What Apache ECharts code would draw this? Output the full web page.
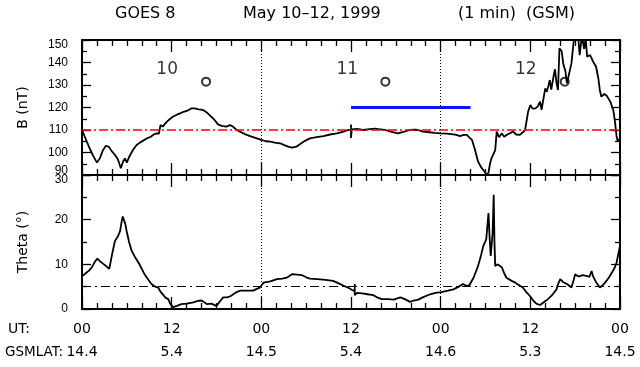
<!DOCTYPE html>
<html>
<head>
<meta charset="utf-8">
<script src="https://cdn.jsdelivr.net/npm/echarts@6/dist/echarts.min.js"></script>
<style>
html, body { margin: 0; padding: 0; background: #fff; }
#main { width: 640px; height: 367px; }
</style>
</head>
<body>
<div id="main"></div>
<script>
// bottom axis label rows
var utLabels = ["00", "12", "00", "12", "00", "12", "00"];
var latLabels = ["14.4", "5.4", "14.5", "5.4", "14.6", "5.3", "14.5"];

// day labels and local noon markers in the B panel
var dayLabels = ["10", "11", "12"];
var dayPos = [[11.4, 137], [35.5, 137], [59.4, 137]];
var noonMarks = [[16.6, 131.5], [40.6, 131.5], [64.6, 131.5]];

// blue bar (hours 36-52 at 120 nT)
var blueBar = [[36, 120], [52, 120]];

// reference levels
var bRef = 110;
var thetaRef = 5;
var dayBounds = [24, 48];

// B (nT) vs hours since 00 UT May 10
var bField = [
  [0,110],[0.5,106],[1,102],[1.5,98.5],[2,95.5],[2.4,97.5],[2.8,101],[3.2,103],[3.6,102.5],[4,100.5],
  [4.4,99],[4.8,97],[5.2,93],[5.5,96],[5.75,97.4],[6,95.5],[6.3,98],[6.8,101],[7.3,103.3],[7.8,104.5],
  [8.3,105.5],[8.7,106.3],[9.2,107],[9.6,108],[10,108.5],[10.3,108.4],[10.5,112.2],[10.8,111.5],[11.3,113.5],
  [11.8,115],[12.2,116],[12.7,116.8],[13.2,117.5],[13.6,118.1],[14.1,118.6],[14.6,119.6],[15.1,119.6],
  [15.6,119.2],[16.2,118.9],[16.7,117.8],[17.1,116.5],[17.6,115],[18.2,112.5],[18.7,111.8],[19.3,111.5],
  [19.8,112.2],[20.2,111.5],[20.7,110],[21.1,109.3],[21.8,108.2],[22.5,107.3],[23.2,106.5],[24,105.6],
  [24.6,105],[25.2,104.8],[25.8,104.4],[26.5,104.1],[27,103.4],[27.6,102.6],[28.1,102.2],[28.7,102.6],
  [29.3,104],[29.9,105.3],[30.5,106.3],[31.4,106.8],[32.3,107.3],[33.2,108],[34.1,108.5],[35,109.3],
  [35.6,110],[36,110.2],[36,112.5],[36,106.5],[36.1,110.3],[36.8,110.5],[37.6,110],[38.5,110.4],[39.2,110.6],
  [39.9,110.3],[40.6,110],[41.3,109.3],[42.3,108.5],[43,109.2],[43.9,110],[44.5,110.2],[45,110],[45.6,109.3],
  [46.5,109],[47.2,108.7],[47.9,108.5],[48.8,108.4],[49.7,108.1],[50.1,107.8],[50.6,107.3],[51.1,107.8],
  [51.5,107.8],[51.9,106.5],[52.2,105.6],[52.6,101.1],[53,96],[53.4,93.5],[53.7,92.2],[54.2,90],[54.4,91],
  [54.6,95],[54.8,97.4],[55.3,101.1],[55.5,109.3],[55.8,106.8],[56.2,108.5],[56.5,107],[56.8,107.8],
  [57.3,108.6],[57.7,109.3],[58.1,108],[58.6,107.8],[59,109],[59.3,110],[59.7,118.1],[60,121.1],[60.3,119.5],
  [60.7,119.6],[61,120.5],[61.3,122.6],[61.5,119],[62,128.5],[62.2,127],[62.4,129.3],[62.6,132.2],[62.8,128],
  [63.1,133.7],[63.3,137],[63.5,131],[63.7,127.8],[63.9,146.3],[64.2,145],[64.4,139.6],[64.7,136],[64.9,130.7],
  [65.1,133.7],[65.5,139.6],[65.8,149.3],[66,153],[66.3,156],[66.6,143.3],[66.9,152],[67.2,146],[67.4,151],
  [67.6,142.6],[68,143.3],[68.4,140.4],[68.8,138.1],[69.1,133],[69.3,127.8],[69.5,124.8],[69.9,126],
  [70.2,125.3],[70.7,122.6],[71.1,118.9],[71.3,114.4],[71.55,107],[71.7,105],[72,106.3]
];

// Theta (deg) vs hours
var theta = [
  [0,7.3],[0.5,8],[1,8.7],[1.3,9.3],[1.7,10.5],[2.05,11.3],[2.4,10.7],[2.85,10.1],[3.3,9.5],[3.65,9],
  [4,12],[4.4,15.2],[4.85,16.4],[5.1,17.5],[5.3,19.5],[5.45,20.7],[5.6,20],[5.8,19],[5.98,17.4],[6.3,15],
  [6.65,13],[7.1,11.6],[7.55,10.4],[8,9],[8.43,7.6],[8.9,6.5],[9.3,5.6],[9.8,5],[10.2,4.8],[10.5,3.9],
  [10.9,3.1],[11.2,2.5],[11.55,2.2],[11.8,1.2],[12.2,0.4],[12.7,0.7],[13.3,1.1],[14,1.2],[14.9,1.5],
  [15.5,1.8],[16,1.9],[16.7,1.1],[17.3,1.2],[18,0.7],[18.5,1.8],[18.9,2.6],[19.4,2.6],[19.8,2.8],[20.5,3.6],
  [21.1,4.1],[22,4.1],[22.9,4.1],[23.4,4.5],[23.8,4.8],[24.3,5.9],[25.2,6.2],[26.1,6.7],[26.8,6.8],[27.4,7],
  [28.1,7.8],[28.8,7.7],[29.4,7.6],[30,7.1],[30.5,6.8],[31.5,6.7],[32.6,6.5],[33.6,6.3],[34.3,5.8],[35,5.2],
  [35.6,4.8],[36.1,4.3],[36.5,4.0],[36.5,5.6],[36.5,3.1],[36.8,3.6],[37.5,3.5],[38.2,3.3],[39,3.1],[39.5,2.6],
  [40.1,2.2],[41,2.2],[41.7,2.1],[42.2,2.4],[42.6,2.6],[43.2,2.2],[43.9,1.6],[44.4,1.9],[45,2.1],[45.6,2.6],
  [46.6,3.3],[47.3,3.6],[48.1,3.8],[49,4.1],[49.7,4.4],[50.3,4.9],[51,5.6],[51.4,5.2],[51.8,5.2],[52.4,7],
  [53,9.6],[53.4,12],[53.7,14.1],[54.1,15.6],[54.4,21.5],[54.55,16],[54.7,11.9],[54.95,17],[55.1,25.6],
  [55.2,15],[55.3,9.6],[55.6,10],[55.8,9.8],[56.2,9.3],[56.5,8],[56.8,7],[57.5,6.3],[58,5.9],[58.6,5.2],
  [59,4.8],[59.5,3.7],[60,2.8],[60.4,1.9],[60.8,1.2],[61.3,0.9],[61.8,1.5],[62.2,2],[62.6,2.6],[63,3.3],
  [63.5,4.4],[63.7,5.5],[64,6.7],[64.4,6],[64.9,5.6],[65.2,5.2],[65.5,4.8],[65.8,6.5],[66,7.8],[66.3,7.4],
  [66.6,7.3],[67,7.6],[67.5,7.4],[67.9,7.2],[68.2,8.5],[68.4,7.3],[68.8,6],[69.3,4.8],[69.6,5.2],[70,5.9],
  [70.5,7],[70.9,8.1],[71.3,9.3],[71.55,10.4],[72,14.2]
];

var tickFont = "Liberation Sans";
var textFont = "DejaVu Sans";

function xAxisFor(grid, pos, withLabels) {
  return {
    type: "value", gridIndex: grid, position: pos, min: 0, max: 72, interval: 12,
    axisLine: { show: true, onZero: false, lineStyle: { color: "#000", width: 2 } },
    axisTick: { show: true, inside: true, length: 12, lineStyle: { color: "#000", width: 1.3 } },
    minorTick: { show: true, splitNumber: 6, length: 6, lineStyle: { color: "#000", width: 1.3 } },
    splitLine: { show: false },
    axisLabel: withLabels ? {
      show: true, margin: 9, color: "#000", fontFamily: textFont, fontSize: 14, lineHeight: 23,
      formatter: function (v) {
        var i = Math.round(v / 12);
        return utLabels[i] + "\n" + latLabels[i];
      }
    } : { show: false }
  };
}

function yAxisFor(grid, pos, min, max, name, shiftTop, shiftBottom) {
  var left = pos === "left";
  return {
    type: "value", gridIndex: grid, position: pos, min: min, max: max, interval: 10,
    name: left ? name : "", nameLocation: "middle", nameGap: 52, nameRotate: 90,
    nameTextStyle: { color: "#000", fontFamily: textFont, fontSize: 14 },
    axisLine: { show: true, onZero: false, lineStyle: { color: "#000", width: 2 } },
    axisTick: { show: true, inside: true, length: 9, lineStyle: { color: "#000", width: 1.3 } },
    minorTick: { show: true, splitNumber: 2, length: 5, lineStyle: { color: "#000", width: 1.3 } },
    splitLine: { show: false },
    axisLabel: left ? {
      show: true, margin: 14, color: "#000", fontFamily: tickFont, fontSize: 12,
      formatter: function (v) {
        if (v === max && shiftTop) return "{dn|" + v + "}";
        if (v === min && shiftBottom) return "{up|" + v + "}";
        return v;
      },
      rich: {
        dn: { fontFamily: tickFont, fontSize: 12, color: "#000", padding: [10, 0, 0, 0] },
        up: { fontFamily: tickFont, fontSize: 12, color: "#000", padding: [0, 0, 8, 0] }
      }
    } : { show: false }
  };
}

var chart = echarts.init(document.getElementById("main"));
chart.setOption({
  animation: false,
  backgroundColor: "#fff",
  grid: [
    { left: 82, top: 40, width: 538, height: 135 },
    { left: 82, top: 175, width: 538, height: 134 }
  ],
  xAxis: [
    xAxisFor(0, "bottom", false),
    xAxisFor(0, "top", false),
    xAxisFor(1, "bottom", true),
    xAxisFor(1, "top", false)
  ],
  yAxis: [
    yAxisFor(0, "left", 90, 150, "B (nT)", true, true),
    yAxisFor(0, "right", 90, 150, "", false, false),
    yAxisFor(1, "left", 0, 30, "Theta (\u00b0)", true, false),
    yAxisFor(1, "right", 0, 30, "", false, false)
  ],
  graphic: [
    { type: "text", left: 115, top: 6, style: { text: "GOES 8", font: "16px " + textFont, fill: "#000" } },
    { type: "text", left: 243, top: 6, style: { text: "May 10\u201312, 1999", font: "16px " + textFont, fill: "#000" } },
    { type: "text", left: 458, top: 6, style: { text: "(1 min)  (GSM)", font: "16px " + textFont, fill: "#000" } },
    { type: "text", left: 8, top: 322, style: { text: "UT:", font: "14px " + textFont, fill: "#000" } },
    { type: "text", left: 5, top: 345, style: { text: "GSMLAT:", font: "13.5px " + textFont, fill: "#000" } }
  ],
  series: [
    {
      type: "line", xAxisIndex: 0, yAxisIndex: 0, data: bField, showSymbol: false, symbol: "none", z: 4,
      lineStyle: { color: "#000", width: 1.8 },
      markLine: {
        silent: true, symbol: "none", label: { show: false }, animation: false,
        data: [
          { yAxis: bRef, lineStyle: { color: "#ff0000", width: 1.5, type: [9, 3, 2, 3] } },
          { xAxis: dayBounds[0], lineStyle: { color: "#000", width: 1, type: [1, 2] } },
          { xAxis: dayBounds[1], lineStyle: { color: "#000", width: 1, type: [1, 2] } }
        ]
      }
    },
    {
      type: "line", xAxisIndex: 0, yAxisIndex: 0, data: blueBar, showSymbol: false, symbol: "none",
      lineStyle: { color: "#1010ff", width: 3 }
    },
    {
      type: "scatter", xAxisIndex: 0, yAxisIndex: 0, data: noonMarks, symbol: "emptyCircle", symbolSize: 8,
      itemStyle: { color: "#000", borderColor: "#000", borderWidth: 1.3 }
    },
    {
      type: "scatter", xAxisIndex: 0, yAxisIndex: 0, data: dayPos, symbolSize: 1,
      itemStyle: { color: "rgba(0,0,0,0)" },
      label: {
        show: true, position: "inside", color: "#000", fontFamily: textFont, fontSize: 17,
        formatter: function (p) { return dayLabels[p.dataIndex]; }
      }
    },
    {
      type: "line", xAxisIndex: 2, yAxisIndex: 2, data: theta, showSymbol: false, symbol: "none", z: 4,
      lineStyle: { color: "#000", width: 1.8 },
      markLine: {
        silent: true, symbol: "none", label: { show: false }, animation: false,
        data: [
          { yAxis: thetaRef, lineStyle: { color: "#000", width: 1.2, type: [9, 4, 2, 4] } },
          { xAxis: dayBounds[0], lineStyle: { color: "#000", width: 1, type: [1, 2] } },
          { xAxis: dayBounds[1], lineStyle: { color: "#000", width: 1, type: [1, 2] } }
        ]
      }
    }
  ]
});
</script>
</body>
</html>
